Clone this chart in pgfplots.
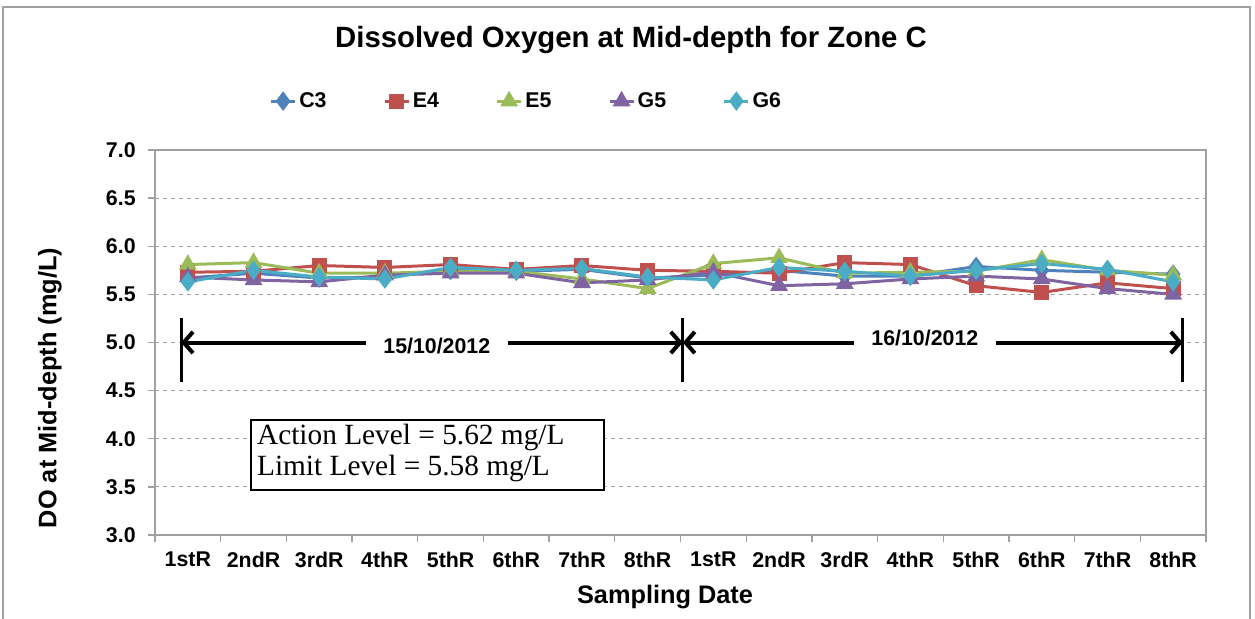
\documentclass[border=0pt]{standalone}
\usepackage{fontspec}
\setmainfont{Liberation Sans}
\newfontfamily\boxserif{Liberation Serif}
\usepackage{pgfplots}
\pgfplotsset{compat=1.18}
\usetikzlibrary{arrows.meta}
\definecolor{cC3}{HTML}{4F81BD}
\definecolor{cE4}{HTML}{C0504D}
\definecolor{cE5}{HTML}{9BBB59}
\definecolor{cG5}{HTML}{8064A2}
\definecolor{cG6}{HTML}{4BACC6}
\definecolor{frame}{HTML}{A0A0A0}
\begin{document}
\begin{tikzpicture}[x=0.75pt,y=0.75pt]
\useasboundingbox (0,0) rectangle (1255,-618);
\draw[frame, line width=1.5pt] (3,-620) -- (3,-7) -- (1250,-7) -- (1250,-620);
\node[font=\fontsize{22}{26}\selectfont\bfseries] at (631,-40) {Dissolved Oxygen at Mid-depth for Zone C};
\node[font=\fontsize{19}{23}\selectfont\bfseries] at (665,-597) {Sampling Date};
\node[font=\fontsize{19}{23}\selectfont\bfseries, rotate=90] at (50,-388) {DO at Mid-depth (mg/L)};
\begin{axis}[
  at={(116.25pt,-401.25pt)}, anchor=south west,
  width=788.25pt, height=288.75pt, scale only axis,
  xmin=-0.5, xmax=15.5, ymin=3, ymax=7,
  xtick={0,...,15},
  xticklabels={1stR,2ndR,3rdR,4thR,5thR,6thR,7thR,8thR,1stR,2ndR,3rdR,4thR,5thR,6thR,7thR,8thR},
  minor xtick={-0.5,0.5,...,15.5},
  ytick={3,3.5,...,7},
  tick pos=left,
  tick align=outside,
  major tick length=5pt, minor tick length=5pt,
  major x tick style={draw=none},
  every tick/.style={frame, line width=1pt},
  axis line style={frame, line width=1.5pt},
  ymajorgrids,
  major grid style={dashed, frame, line width=0.8pt},
  ticklabel style={font=\fontsize{16}{19}\selectfont\bfseries},
  yticklabel style={xshift=-6pt},
  xticklabel style={yshift=-4pt},
  /pgf/number format/.cd, fixed, fixed zerofill, precision=1, assume math mode=true,
  /pgfplots/.cd,
  legend columns=5,
  legend style={draw=none, fill=none, at={(0.105,1.127)}, anchor=west,
    font=\fontsize{16}{19}\selectfont\bfseries,
    /tikz/every even column/.append style={column sep=40.5pt}},
  legend image code/.code={\draw[mark repeat=2, mark phase=2] plot coordinates {(0pt,0pt) (9pt,0pt) (18pt,0pt)};},
  every axis plot/.append style={line width=2.25pt},
]
\addplot[cC3, mark=diamond*, mark size=5.5pt, mark options={solid}] coordinates {
(0,5.67) (1,5.72) (2,5.67) (3,5.68) (4,5.75) (5,5.74) (6,5.76) (7,5.67)
(8,5.70) (9,5.75) (10,5.69) (11,5.69) (12,5.79) (13,5.75) (14,5.73) (15,5.71)};
\addlegendentry{C3}
\addplot[cE4, mark=square*, mark size=4.5pt] coordinates {
(0,5.73) (1,5.74) (2,5.80) (3,5.78) (4,5.81) (5,5.76) (6,5.80) (7,5.75)
(8,5.74) (9,5.72) (10,5.83) (11,5.81) (12,5.59) (13,5.52) (14,5.62) (15,5.56)};
\addlegendentry{E4}
\addplot[cE5, mark=triangle*, mark size=5.5pt] coordinates {
(0,5.81) (1,5.83) (2,5.72) (3,5.72) (4,5.74) (5,5.74) (6,5.66) (7,5.56)
(8,5.82) (9,5.88) (10,5.72) (11,5.73) (12,5.74) (13,5.86) (14,5.75) (15,5.70)};
\addlegendentry{E5}
\addplot[cG5, mark=triangle*, mark size=5.5pt] coordinates {
(0,5.68) (1,5.65) (2,5.63) (3,5.70) (4,5.72) (5,5.72) (6,5.62) (7,5.65)
(8,5.73) (9,5.59) (10,5.61) (11,5.66) (12,5.69) (13,5.66) (14,5.56) (15,5.50)};
\addlegendentry{G5}
\addplot[cG6, mark=diamond*, mark size=5.5pt] coordinates {
(0,5.63) (1,5.75) (2,5.68) (3,5.66) (4,5.78) (5,5.75) (6,5.77) (7,5.68)
(8,5.65) (9,5.78) (10,5.74) (11,5.69) (12,5.75) (13,5.82) (14,5.76) (15,5.63)};
\addlegendentry{G6}
% annotations
\draw[line width=2.25pt] (axis cs:-0.104,5.255) -- (axis cs:-0.104,4.59);
\draw[line width=2.25pt] (axis cs:7.535,5.255) -- (axis cs:7.535,4.59);
\draw[line width=2.25pt] (axis cs:15.147,5.255) -- (axis cs:15.147,4.59);
\draw[line width=3pt, {Straight Barb[length=7pt,width=16pt]}-{Straight Barb[length=7pt,width=16pt]}] (axis cs:-0.104,5.0) -- (axis cs:7.535,5.0);
\draw[line width=3pt, {Straight Barb[length=7pt,width=16pt]}-{Straight Barb[length=7pt,width=16pt]}] (axis cs:7.535,5.0) -- (axis cs:15.147,5.0);
\node[fill=white, inner xsep=13pt, inner ysep=3pt, font=\fontsize{16}{19}\selectfont\bfseries] at (axis cs:3.79,4.96) {15/10/2012};
\node[fill=white, inner xsep=13pt, inner ysep=3pt, font=\fontsize{16}{19}\selectfont\bfseries] at (axis cs:11.22,5.05) {16/10/2012};
\draw[black, line width=1.5pt, fill=white] (axis cs:0.955,4.195) rectangle (axis cs:6.34,3.468);
\node[anchor=west, inner sep=0pt, font=\boxserif\fontsize{22}{26}\selectfont] at (axis cs:1.05,4.018) {Action Level = 5.62 mg/L};
\node[anchor=west, inner sep=0pt, font=\boxserif\fontsize{22}{26}\selectfont] at (axis cs:1.05,3.696) {Limit Level = 5.58 mg/L};
\end{axis}
\end{tikzpicture}
\end{document}
